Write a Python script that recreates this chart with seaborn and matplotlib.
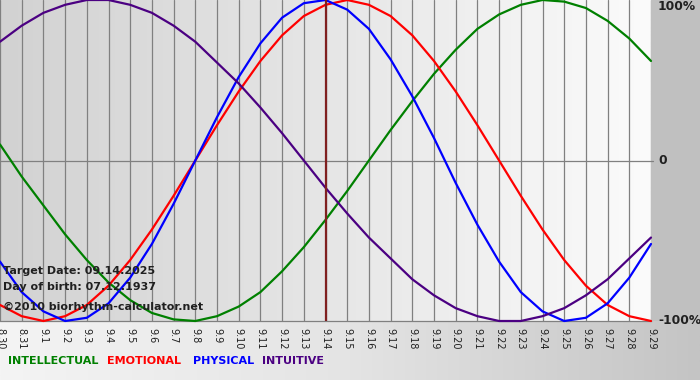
import numpy as np
import pandas as pd
import matplotlib
matplotlib.use("Agg")
import matplotlib.pyplot as plt
import seaborn as sns
from matplotlib.colors import LinearSegmentedColormap

# ---- data ----
dates = ["8.30", "8.31"] + [f"9.{i}" for i in range(1, 30)]
physical = [-0.63, -0.82, -0.94, -1.00, -0.98, -0.89, -0.73, -0.52, -0.27, 0.00,
            0.27, 0.52, 0.73, 0.89, 0.98, 1.00, 0.94, 0.82, 0.63, 0.40,
            0.14, -0.14, -0.40, -0.63, -0.82, -0.94, -1.00, -0.98, -0.89, -0.73, -0.52]
emotional = [-0.90, -0.97, -1.00, -0.97, -0.90, -0.78, -0.62, -0.43, -0.22, 0.00,
             0.22, 0.43, 0.62, 0.78, 0.90, 0.97, 1.00, 0.97, 0.90, 0.78,
             0.62, 0.43, 0.22, 0.00, -0.22, -0.43, -0.62, -0.78, -0.90, -0.97, -1.00]
intellectual = [0.10, -0.10, -0.28, -0.46, -0.62, -0.76, -0.87, -0.95, -0.99, -1.00,
                -0.97, -0.91, -0.82, -0.69, -0.54, -0.37, -0.19, 0.00, 0.19, 0.37,
                0.54, 0.69, 0.82, 0.91, 0.97, 1.00, 0.99, 0.95, 0.87, 0.76, 0.62]
intuitive = [0.74, 0.84, 0.92, 0.97, 1.00, 1.00, 0.97, 0.92, 0.84, 0.74,
             0.61, 0.48, 0.33, 0.17, 0.00, -0.17, -0.33, -0.48, -0.61, -0.74,
             -0.84, -0.92, -0.97, -1.00, -1.00, -0.97, -0.92, -0.84, -0.74, -0.61, -0.48]
target_label = "9.14"
series_names = ["INTELLECTUAL", "EMOTIONAL", "PHYSICAL", "INTUITIVE"]
series_colors = ["#008000", "#ff0000", "#0000ff", "#4b0082"]
info_lines = ["Target Date: 09.14.2025", "Day of birth: 07.12.1937",
              "\u00a92010 biorhythm-calculator.net"]

idx = np.arange(len(dates))
df = pd.concat([
    pd.DataFrame({"day": idx, "value": vals, "series": name})
    for name, vals in zip(series_names, [intellectual, emotional, physical, intuitive])
])

sns.set_style("white")
plt.rcParams["font.family"] = ["DejaVu Sans"]

W, H = 700, 380
fig = plt.figure(figsize=(W / 100, H / 100), dpi=100)
fig.patch.set_facecolor("#c0c0c0")

# bottom strip background gradient
bg = fig.add_axes([0, 0, 1, (H - 321) / H], zorder=-5)
bg.imshow(np.linspace(0, 1, 256).reshape(1, -1), aspect="auto",
          cmap=LinearSegmentedColormap.from_list("b", ["#f4f4f4", "#e4e4e4", "#c4c4c4"]),
          extent=[0, 1, 0, 1])
bg.set_axis_off()

ax = fig.add_axes([0, (H - 321) / H, 651 / W, 321 / H])
ax.imshow(np.linspace(0, 1, 256).reshape(1, -1), aspect="auto",
          cmap=LinearSegmentedColormap.from_list("p", ["#d2d2d2", "#e6e6e6", "#fbfbfb"]),
          extent=[0, len(dates) - 1, -1, 1], zorder=0)

sns.lineplot(data=df, x="day", y="value", hue="series", hue_order=series_names,
             palette=series_colors, legend=False, linewidth=1.6, ax=ax, zorder=4)
for l in ax.lines:
    l.set_clip_on(False)
    l.set_solid_capstyle("round")
    l.set_solid_joinstyle("round")

ax.set_xlim(0, len(dates) - 1)
ax.set_ylim(-1, 1)
for i in idx:
    ax.axvline(i, color="#808080", lw=0.9, zorder=1)
ax.axhline(0, color="#808080", lw=0.9, zorder=1, xmax=1.003, clip_on=False)
ax.axvline(dates.index(target_label), color="#802020", lw=1.6, zorder=5)

ax.set_xticks(idx)
ax.set_xticklabels(dates, rotation=270, fontsize=7, color="#202020")
ax.tick_params(axis="x", direction="out", length=4, width=0.8, color="#808080", pad=1)
ax.set_yticks([])
ax.set_xlabel("")
ax.set_ylabel("")
for s in ["top", "left", "right"]:
    ax.spines[s].set_visible(False)
ax.spines["bottom"].set_color("#808080")
ax.spines["bottom"].set_linewidth(0.9)

# right-side labels
for txt, yv, va in [("100%", 1.0, "top"), ("0", 0.0, "center"), ("-100%", -1.0, "center")]:
    ax.text(1.0 + 7 / 651, yv, txt, transform=ax.get_yaxis_transform(), ha="left", va=va,
            fontsize=8.8, fontweight="bold", color="#202020", clip_on=False)

# info text inside plot
for txt, ypx in zip(info_lines, [271, 287, 307]):
    ax.text(3 / 651, 1 - ypx / 321, txt, transform=ax.transAxes, ha="left", va="center",
            fontsize=8, fontweight="bold", color="#202020", zorder=6)

# legend
for name, col, xpx in zip(series_names, series_colors, [8, 107, 193, 262]):
    fig.text(xpx / W, 1 - 361 / H, name, color=col, fontsize=8, fontweight="bold",
             ha="left", va="center")

fig.savefig("out.png", dpi=100, facecolor=fig.get_facecolor())
